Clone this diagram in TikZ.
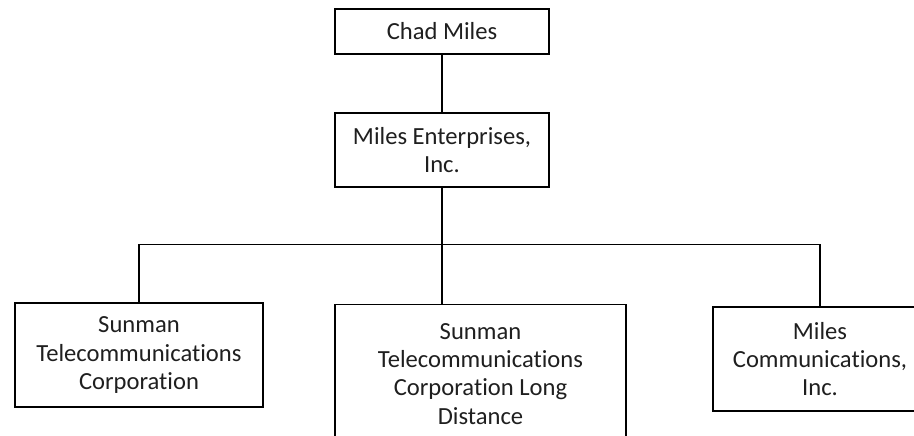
\documentclass[tikz,border=0pt]{standalone}
\usepackage{fontspec}
\setmainfont[Ligatures=NoCommon]{Carlito}
\begin{document}
\begin{tikzpicture}[x=1pt,y=-1pt,
  orgbox/.style={draw=black, line width=1.4pt, fill=white, inner sep=0pt,
    align=center, text=black!88, font=\fontsize{24.6}{28.3}\selectfont},
  link/.style={draw=black, line width=1.4pt}]
\useasboundingbox (0,0) rectangle (914,436);
\clip (0,0) rectangle (914,436);
\node[orgbox, minimum width=214pt, minimum height=45pt] (top) at (442,31.5) {Chad Miles};
\node[orgbox, minimum width=214pt, minimum height=74pt] (mid) at (442,150) {Miles Enterprises,\\Inc.};
\node[orgbox, minimum width=248pt, minimum height=104pt] (left) at (139,355) {\raisebox{-2pt}{\parbox{240pt}{\centering Sunman\\Telecommunications\\Corporation}}};
\node[orgbox, minimum width=291pt, minimum height=138pt, anchor=north] (mb) at (480.5,304) {Sunman\\Telecommunications\\Corporation Long\\Distance};
\node[orgbox, minimum width=214pt, minimum height=104pt] (right) at (820,359) {Miles\\Communications,\\Inc.};
\coordinate (bus) at (442,244.7);
\draw[link] (top.south) -- (mid.north);
\draw[link] (mid.south) -- (bus);
\draw[link] (left.north) |- (bus) -| (right.north);
\draw[link] (bus) -- (bus |- mb.north);
\end{tikzpicture}
\end{document}
